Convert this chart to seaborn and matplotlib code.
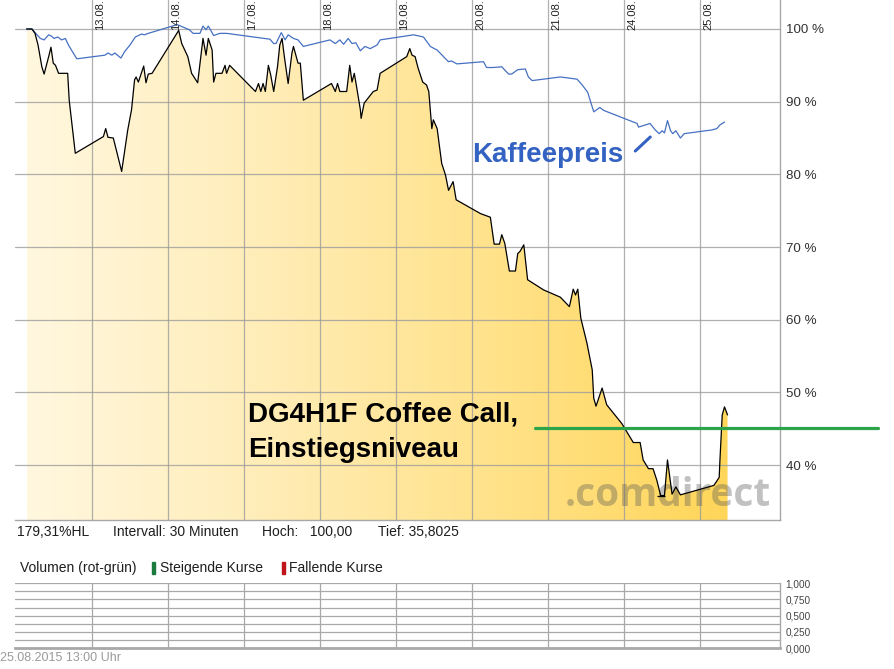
import numpy as np
import pandas as pd
import seaborn as sns
import matplotlib.pyplot as plt
from matplotlib.colors import LinearSegmentedColormap
from matplotlib.patches import Rectangle
from matplotlib.ticker import FixedLocator, MultipleLocator
from matplotlib.transforms import offset_copy

sns.set_style("white")
plt.rcParams['font.family'] = ['Liberation Sans', 'DejaVu Sans']

# Time axis: trading-day index (0 = 12.08., 1 = 13.08., ...), 30-minute bars.
# Values: % of the starting level (12.08. = 100 %).
call_t = [0.14, 0.21, 0.25, 0.29, 0.34, 0.37, 0.43, 0.46, 0.49, 0.52,
          0.56, 0.68, 0.70, 0.78, 1.15, 1.18, 1.21, 1.28, 1.39, 1.47,
          1.52, 1.56, 1.58, 1.61, 1.68, 1.71, 1.74, 1.79, 2.14, 2.18,
          2.26, 2.31, 2.39, 2.46, 2.50, 2.53, 2.58, 2.60, 2.63, 2.71,
          2.75, 2.77, 2.81, 3.15, 3.19, 3.22, 3.25, 3.28, 3.32, 3.35,
          3.39, 3.44, 3.47, 3.50, 3.53, 3.58, 3.63, 3.65, 3.71, 3.74,
          3.78, 4.15, 4.20, 4.23, 4.26, 4.35, 4.39, 4.42, 4.45, 4.47,
          4.53, 4.54, 4.58, 4.61, 4.70, 4.75, 4.79, 5.14, 5.18, 5.21,
          5.25, 5.29, 5.35, 5.40, 5.43, 5.45, 5.47, 5.49, 5.54, 5.60,
          5.65, 5.69, 5.75, 5.79, 6.11, 6.24, 6.29, 6.36, 6.39, 6.43,
          6.49, 6.57, 6.60, 6.63, 6.68, 6.73, 6.94, 7.16, 7.28, 7.33,
          7.36, 7.39, 7.43, 7.51, 7.58, 7.60, 7.63, 7.71, 7.77, 7.97,
          8.12, 8.21, 8.25, 8.32, 8.38, 8.43, 8.48, 8.53, 8.57, 8.63,
          8.68, 8.74, 9.18, 9.25, 9.26, 9.28, 9.29, 9.32, 9.36]
call_pct = [100.0, 100.0, 99.4, 97.8, 94.8, 93.8, 96.2, 97.5, 95.3, 95.0,
            93.9, 93.9, 90.2, 82.9, 85.2, 86.3, 85.1, 85.0, 80.4, 86.1,
            88.9, 93.0, 93.4, 92.7, 94.9, 92.6, 93.8, 93.9, 99.8, 98.0,
            96.2, 93.9, 92.6, 98.7, 96.4, 98.7, 97.1, 92.7, 93.9, 93.9,
            95.0, 93.9, 95.0, 91.4, 92.5, 91.4, 92.5, 91.4, 95.0, 93.7,
            91.4, 94.8, 97.8, 98.7, 96.2, 92.5, 96.7, 97.6, 95.3, 95.3,
            90.2, 92.5, 91.4, 92.5, 91.4, 91.4, 95.0, 92.7, 93.9, 92.7,
            88.9, 87.7, 89.8, 90.2, 91.4, 91.6, 93.9, 96.2, 97.3, 96.4,
            96.2, 94.6, 92.7, 92.3, 91.4, 88.9, 86.3, 87.5, 86.3, 81.5,
            79.9, 77.8, 79.0, 76.5, 74.6, 74.1, 70.4, 70.4, 71.7, 70.5,
            66.7, 66.7, 69.1, 69.4, 70.3, 65.5, 64.1, 63.1, 61.8, 64.2,
            63.4, 64.2, 60.2, 56.8, 53.1, 49.2, 48.1, 50.6, 48.3, 45.7,
            43.1, 43.1, 40.7, 39.5, 39.5, 37.9, 35.8, 35.8, 40.7, 36.0,
            37.0, 35.9, 37.2, 38.3, 40.7, 44.8, 46.9, 48.0, 46.9]

coffee_t = [0.14, 0.21, 0.26, 0.32, 0.37, 0.43, 0.47, 0.50, 0.55, 0.60,
            0.65, 0.69, 0.73, 0.80, 1.17, 1.21, 1.26, 1.30, 1.38, 1.43,
            1.50, 1.57, 1.61, 1.65, 1.69, 1.74, 2.12, 2.28, 2.33, 2.42,
            2.46, 2.50, 2.53, 2.60, 2.68, 2.77, 3.34, 3.39, 3.42, 3.49,
            3.54, 3.58, 3.65, 3.71, 3.78, 4.13, 4.20, 4.26, 4.31, 4.37,
            4.42, 4.47, 4.53, 4.59, 4.66, 4.75, 4.79, 5.23, 5.36, 5.45,
            5.54, 5.67, 5.69, 5.73, 5.80, 6.15, 6.19, 6.28, 6.39, 6.48,
            6.52, 6.60, 6.70, 6.74, 6.79, 7.16, 7.38, 7.44, 7.52, 7.60,
            7.68, 7.73, 8.17, 8.19, 8.34, 8.41, 8.46, 8.50, 8.53, 8.57,
            8.61, 8.64, 8.68, 8.74, 8.79, 9.00, 9.15, 9.22, 9.26, 9.32]
coffee_pct = [100.0, 100.0, 99.4, 98.7, 98.5, 99.2, 99.0, 98.7, 98.9, 98.5,
              98.7, 97.8, 97.1, 95.9, 96.4, 96.7, 96.4, 96.7, 96.0, 96.9,
              97.8, 98.9, 99.1, 99.3, 99.2, 99.4, 100.6, 99.9, 99.4, 99.4,
              100.4, 99.9, 100.4, 99.1, 99.4, 99.4, 98.6, 98.0, 98.0, 99.5,
              98.5, 99.2, 98.7, 98.5, 97.6, 98.5, 98.0, 98.5, 97.9, 98.7,
              98.0, 98.1, 97.0, 97.6, 97.3, 97.8, 98.5, 99.2, 98.9, 97.6,
              97.1, 95.7, 95.5, 95.6, 95.2, 95.5, 94.7, 94.7, 94.8, 93.8,
              93.8, 94.4, 94.5, 93.4, 92.9, 93.4, 93.1, 92.4, 91.3, 88.6,
              89.2, 88.8, 87.0, 86.5, 87.0, 86.1, 85.6, 86.0, 85.7, 87.4,
              86.0, 85.6, 86.0, 85.0, 85.6, 85.9, 86.1, 86.3, 86.8, 87.2]

day_pos = [1, 2, 3, 4, 5, 6, 7, 8, 9]
day_labels = ["13.08.", "14.08.", "17.08.", "18.08.", "19.08.",
              "20.08.", "21.08.", "24.08.", "25.08."]
pct_ticks = [40, 50, 60, 70, 80, 90, 100]
vol_ticks = [0.0, 0.25, 0.5, 0.75, 1.0]
entry_level = 45.1

X_MIN, X_MAX = -0.013, 10.05
Y_MIN, Y_MAX = 32.44, 103.99

W, H = 895, 669
fig = plt.figure(figsize=(W / 100, H / 100), dpi=100)
fig.patch.set_facecolor('white')


def fx(px):
    return px / W


def fy(py):
    return 1 - py / H


GRID = '#9c9c9c'
FRAME = '#a8a8a8'

# ---------------- price panel ----------------
ax = fig.add_axes([fx(15), fy(520), (780 - 15) / W, 520 / H])
ax.set_xlim(X_MIN, X_MAX)
ax.set_ylim(Y_MIN, Y_MAX)
ax.set_facecolor('white')

# gradient area under the certificate line
area = ax.fill_between(call_t, call_pct, Y_MIN, facecolor='none', edgecolor='none')
gold = LinearSegmentedColormap.from_list(
    'gold', ['#FFF7DF', '#FFEDB8', '#FFE28A', '#FFD659'])
grad = np.linspace(0, 1, 512).reshape(1, -1)
im = ax.imshow(grad, extent=[call_t[0], call_t[-1], Y_MIN, Y_MAX],
               aspect='auto', cmap=gold, origin='lower', zorder=1,
               interpolation='bilinear')
im.set_clip_path(area.get_paths()[0], transform=ax.transData)
ax.set_xlim(X_MIN, X_MAX)
ax.set_ylim(Y_MIN, Y_MAX)

ax.set_axisbelow('line')
ax.set_xticks(day_pos)
ax.set_yticks(pct_ticks)
ax.set_yticklabels([f"{v} %" for v in pct_ticks])
ax.yaxis.tick_right()
ax.tick_params(axis='both', length=0)
ax.tick_params(axis='x', labelbottom=False)
ax.tick_params(axis='y', labelsize=9.6, labelcolor='#333333', pad=4)
ax.grid(True, color=GRID, lw=0.9, alpha=0.8)

for side in ['top', 'left']:
    ax.spines[side].set_visible(False)
for side in ['right', 'bottom']:
    ax.spines[side].set_color(FRAME)
    ax.spines[side].set_linewidth(1.0)

# watermark
ax.text(7.22, 34.4, '.comdirect', fontsize=28, fontweight='bold',
        family=['Open Sans', 'DejaVu Sans'], color='#555555', alpha=0.36,
        ha='left', va='baseline', zorder=2)

sns.lineplot(x=coffee_t, y=coffee_pct, ax=ax, color='#4670C2', lw=0.9,
             sort=False, estimator=None, zorder=3)
sns.lineplot(x=call_t, y=call_pct, ax=ax, color='black', lw=0.9,
             sort=False, estimator=None, zorder=4)

# low marker at the period minimum
i_low = int(np.argmin(call_pct))
ax.hlines(call_pct[i_low], call_t[i_low] - 0.05, call_t[i_low + 1] + 0.01,
          color='black', lw=0.9, zorder=4)

# date labels along the top
date_tr = offset_copy(ax.get_xaxis_transform(), fig=fig, x=3, y=0, units='dots')
for d, lab in zip(day_pos, day_labels):
    ax.text(d, 0.942, lab, transform=date_tr, rotation=90, ha='left',
            va='bottom', fontsize=8, color='#222222')

# annotations
blue = '#3462C2'
ax.text(6.0, 82.7, 'Kaffeepreis', color=blue, fontsize=20,
        fontweight='bold', ha='left', va='center', zorder=5)
ax.annotate('', xy=(8.37, 85.4), xytext=(8.12, 82.95),
            arrowprops=dict(arrowstyle='-', lw=2.2, color=blue), zorder=5)

ax.text(3.05, 46.9, 'DG4H1F Coffee Call,', color='black', fontsize=20,
        fontweight='bold', ha='left', va='center', zorder=5)
ax.text(3.05, 42.1, 'Einstiegsniveau', color='black', fontsize=20,
        fontweight='bold', ha='left', va='center', zorder=5)
ax.plot([6.83, 11.34], [entry_level, entry_level], color='#2CA44A', lw=2.3,
        clip_on=False, zorder=6)

# ---------------- info line ----------------
info_y = fy(532)
txt_kw = dict(fontsize=10, color='#1e1e1e', va='center')
fig.text(fx(17), info_y, '179,31%HL', **txt_kw)
fig.text(fx(113), info_y, 'Intervall: 30 Minuten', **txt_kw)
fig.text(fx(262), info_y, 'Hoch:   100,00', **txt_kw)
fig.text(fx(378), info_y, 'Tief: 35,8025', **txt_kw)

# ---------------- volume legend ----------------
leg_y = fy(568)
fig.text(fx(20), leg_y, 'Volumen (rot-grün)', **txt_kw)
fig.add_artist(Rectangle((fx(152), fy(574)), 3 / W, 12 / H,
                         transform=fig.transFigure, color='#1B7A3E'))
fig.text(fx(160), leg_y, 'Steigende Kurse', **txt_kw)
fig.add_artist(Rectangle((fx(282), fy(574)), 3 / W, 12 / H,
                         transform=fig.transFigure, color='#C0141C'))
fig.text(fx(289), leg_y, 'Fallende Kurse', **txt_kw)

# ---------------- volume panel ----------------
axv = fig.add_axes([fx(15), fy(648), (780 - 15) / W, (648 - 583) / H])
axv.set_xlim(X_MIN, X_MAX)
axv.set_ylim(0, 1.004)
axv.set_facecolor('white')
axv.set_xticks(day_pos)
axv.yaxis.tick_right()
axv.yaxis.set_major_locator(FixedLocator(vol_ticks))
axv.yaxis.set_minor_locator(MultipleLocator(0.125))
axv.set_yticklabels([f"{v:.3f}".replace('.', ',') for v in vol_ticks])
axv.tick_params(axis='both', which='both', length=0)
axv.tick_params(axis='x', labelbottom=False)
axv.tick_params(axis='y', labelsize=7.2, labelcolor='#444444', pad=4)
axv.grid(True, which='major', color=FRAME, lw=0.9)
axv.grid(True, which='minor', axis='y', color=FRAME, lw=0.9)
for side in ['top', 'left']:
    axv.spines[side].set_visible(False)
axv.spines['right'].set_color(FRAME)
axv.spines['right'].set_linewidth(1.0)
axv.spines['bottom'].set_color(FRAME)
axv.spines['bottom'].set_linewidth(2.0)

# footer timestamp
fig.text(0.0, fy(658), '25.08.2015 13:00 Uhr', fontsize=9, color='#9a9a9a',
         va='center')

fig.savefig('out.png', dpi=100, facecolor='white')
